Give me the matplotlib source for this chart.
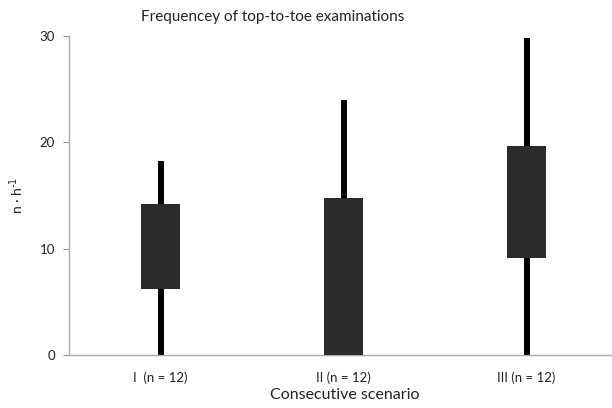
import matplotlib.pyplot as plt

scenarios = ["I  (n = 12)", "II (n = 12)", "III (n = 12)"]
whisker_low = [0, 0, 0]
box_low = [6.2, 0, 9.15]
box_high = [14.2, 14.8, 19.7]
whisker_high = [18.25, 24.0, 29.8]

plt.rcParams['font.family'] = ['Lato', 'DejaVu Sans']

fig = plt.figure(figsize=(6.12, 4.08), dpi=100)
ax = fig.add_axes([69 / 612, 53 / 408, 543 / 612, 319 / 408])

x = list(range(len(scenarios)))
# whiskers first, boxes on top
ax.vlines(x, whisker_low, whisker_high, color="black", linewidth=4.3, zorder=2)
heights = [h - l for l, h in zip(box_low, box_high)]
ax.bar(x, heights, bottom=box_low, width=0.208, color="#2b2b2b", zorder=3)

ax.set_xlim(-0.5, -0.5 + 543 / 183)
ax.set_ylim(0, 30)
ax.set_yticks([0, 10, 20, 30])
ax.set_xticks(x)
ax.set_xticklabels(scenarios, fontsize=9.5, color="#222222")
ax.tick_params(axis="y", labelsize=9.5, colors="#222222", length=4, color="#999999", pad=6)
ax.tick_params(axis="x", length=0, pad=12)

for side in ["top", "right"]:
    ax.spines[side].set_visible(False)
for side in ["left", "bottom"]:
    ax.spines[side].set_color("#aaaaaa")
    ax.spines[side].set_linewidth(1.0)

ax.set_title("Frequencey of top-to-toe examinations", fontsize=11, color="#222222", pad=11,
             x=(273 - 69) / 543)
ax.set_xlabel("Consecutive scenario", fontsize=11.5, color="#222222", labelpad=3,
              x=(345 - 69) / 543)
ax.set_ylabel("n · h$^{\\text{-1}}$", fontsize=10, color="#222222", labelpad=10)

fig.savefig("out.png", dpi=100)
